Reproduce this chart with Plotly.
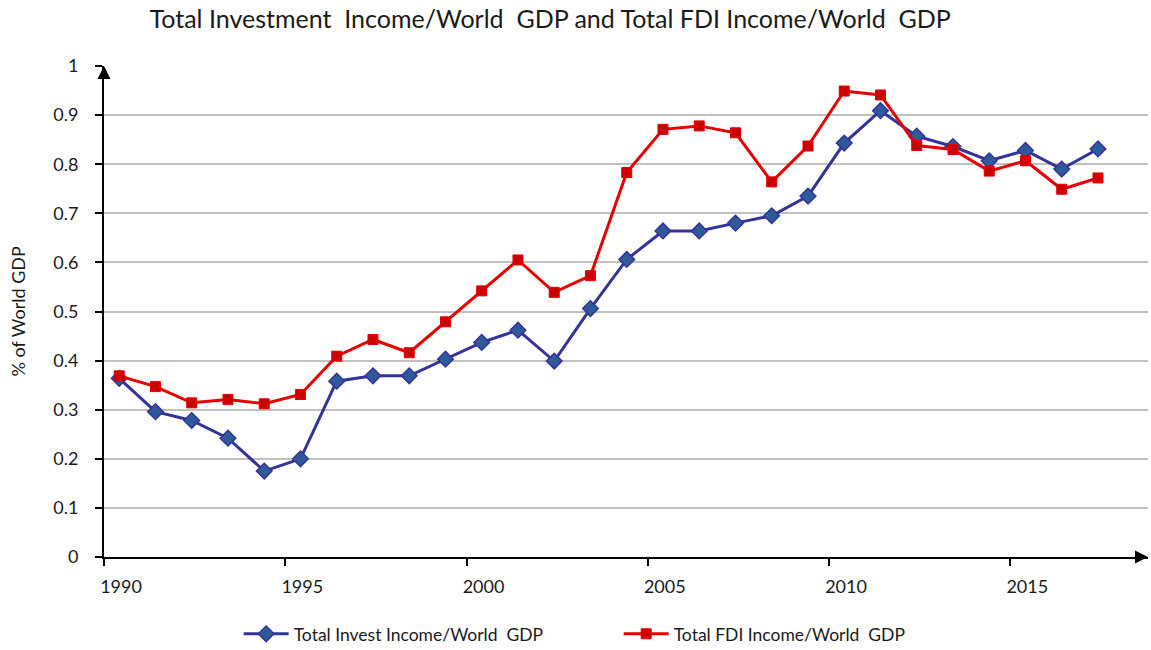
import plotly.graph_objects as go

years = list(range(1990, 2018))
invest_income = [0.364, 0.296, 0.278, 0.242, 0.175, 0.200, 0.358, 0.369, 0.369, 0.403,
                 0.437, 0.462, 0.399, 0.506, 0.606, 0.664, 0.664, 0.680, 0.695, 0.735,
                 0.843, 0.909, 0.857, 0.836, 0.807, 0.828, 0.790, 0.831]
fdi_income = [0.369, 0.347, 0.314, 0.321, 0.312, 0.331, 0.409, 0.443, 0.416, 0.479,
              0.542, 0.605, 0.539, 0.573, 0.783, 0.871, 0.878, 0.864, 0.764, 0.837,
              0.949, 0.941, 0.838, 0.830, 0.786, 0.807, 0.749, 0.772]
x_ticks = [1990, 1995, 2000, 2005, 2010, 2015]
y_ticks = [0, 0.1, 0.2, 0.3, 0.4, 0.5, 0.6, 0.7, 0.8, 0.9, 1]
y_tick_labels = ["0", "0.1", "0.2", "0.3", "0.4", "0.5", "0.6", "0.7", "0.8", "0.9", "1"]

offset = 0.42
xpos = [y + offset for y in years]
x_end = 2018.8

FONT = "Lato, 'Open Sans', sans-serif"

fig = go.Figure()
fig.add_trace(go.Scatter(
    x=xpos, y=invest_income, mode="lines+markers",
    name="Total Invest Income/World  GDP",
    line=dict(color="#333399", width=3),
    marker=dict(symbol="diamond", size=12, color="#2f5a9a",
                line=dict(color="#333399", width=1.5)),
))
fig.add_trace(go.Scatter(
    x=xpos, y=fdi_income, mode="lines+markers",
    name="Total FDI Income/World  GDP",
    line=dict(color="#e60000", width=3),
    marker=dict(symbol="square", size=10, color="#cc0000",
                line=dict(color="#e60000", width=1)),
))

fig.update_layout(
    width=1151, height=650,
    margin=dict(l=104, r=3, t=66, b=93, autoexpand=False),
    paper_bgcolor="white", plot_bgcolor="white",
    font=dict(family=FONT, size=18, color="#1a1a1a"),
    title=dict(text="Total Investment  Income/World  GDP and Total FDI Income/World  GDP",
               x=0.478, xanchor="center", y=0.971, yanchor="middle",
               font=dict(family=FONT, size=25, color="#1a1a1a")),
    showlegend=True,
    legend=dict(orientation="h", x=0.129, xanchor="left", y=-0.12, yanchor="top",
                font=dict(family=FONT, size=17.5, color="#1a1a1a"),
                itemwidth=45, entrywidth=320, entrywidthmode="pixels",
                bgcolor="rgba(0,0,0,0)"),
    xaxis=dict(range=[1990, x_end], tickmode="array", tickvals=x_ticks,
               ticktext=[str(t) for t in x_ticks],
               showgrid=False, zeroline=False, showline=True,
               linecolor="black", linewidth=2,
               ticks="outside", ticklen=7, tickwidth=2, tickcolor="black",
               ticklabelshift=17, ticklabelstandoff=5,
               tickfont=dict(family=FONT, size=18, color="#1a1a1a")),
    yaxis=dict(range=[0, 1], tickmode="array", tickvals=y_ticks, ticktext=y_tick_labels,
               showgrid=True, gridcolor="#c0c0c0", gridwidth=1.5, zeroline=False,
               showline=True, linecolor="black", linewidth=2,
               ticks="outside", ticklen=7, tickwidth=2, tickcolor="black",
               ticklabelstandoff=13,
               tickfont=dict(family=FONT, size=18, color="#1a1a1a")),
)

# Y axis title
fig.add_annotation(text="% of World GDP", xref="paper", yref="paper",
                   x=-0.0833, y=0.5, xanchor="center", yanchor="middle",
                   textangle=-90, showarrow=False,
                   font=dict(family=FONT, size=18, color="#1a1a1a"))

# Axis arrowheads
fig.add_annotation(x=1990, y=1, xref="x", yref="y", ax=0, ay=14, text="",
                   showarrow=True, arrowhead=2, arrowsize=1.3, arrowwidth=2,
                   arrowcolor="black")
fig.add_annotation(x=x_end, y=0, xref="x", yref="y", ax=-14, ay=0, text="",
                   showarrow=True, arrowhead=2, arrowsize=1.3, arrowwidth=2,
                   arrowcolor="black")

fig.write_html("out.html",
               config={"displayModeBar": False},
               post_script="document.body.style.margin='0';document.body.style.overflow='hidden';")
